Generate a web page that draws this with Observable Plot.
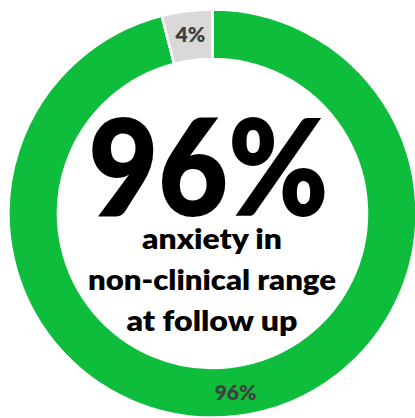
<!DOCTYPE html>
<html>
<head>
<meta charset="utf-8">
<script src="https://cdn.jsdelivr.net/npm/d3@7"></script>
<script src="https://cdn.jsdelivr.net/npm/@observablehq/plot@0.6"></script>
<style>
  html, body { margin: 0; padding: 0; background: #fff; }
  svg { display: block; }
</style>
</head>
<body>
<div id="chart"></div>
<script>
// ---- data ----
const categories = ["non-clinical", "clinical"];
const values = [96, 4];
const sliceLabels = ["96%", "4%"];
const colors = ["#0FBD3C", "#D9D9D9"];
const headline = "96%";
const captionLines = ["anxiety in", "non-clinical range", "at follow up"];

// ---- layout ----
const W = 415, H = 418;
const cx = 212.5, cy = 213.5;
const rOuter = 204, rInner = 154.5;

const pie = d3.pie().sort(null).value(d => d.value);
const arcs = pie(categories.map((c, i) => ({category: c, value: values[i], label: sliceLabels[i], color: colors[i]})));
const arcGen = d3.arc();
const labelArc = d3.arc().innerRadius((rOuter + rInner) / 2 + 1).outerRadius((rOuter + rInner) / 2 + 1);
const labelData = arcs.map(a => {
  const [lx, ly] = labelArc.centroid(a);
  return {x: lx, y: ly, label: a.data.label};
});

const font = "Lato, 'Open Sans', sans-serif";

const chart = Plot.plot({
  width: W,
  height: H,
  margin: 0,
  x: {domain: [-cx, W - cx], range: [0, W], axis: null},
  y: {domain: [-cy, H - cy], range: [0, H], axis: null},
  style: {background: "#fff", fontFamily: font},
  marks: [
    (index, scales) => {
      const g = d3.create("svg:g");
      const x0 = scales.x(0), y0 = scales.y(0);
      const k = scales.x(1) - scales.x(0);
      g.selectAll("path")
        .data(arcs)
        .join("path")
        .attr("transform", `translate(${x0},${y0})`)
        .attr("d", a => arcGen({...a, innerRadius: rInner * k, outerRadius: rOuter * k}))
        .attr("fill", a => a.data.color)
        .attr("stroke", "#fff")
        .attr("stroke-width", 2.5);
      return g.node();
    },
    Plot.text(labelData, {
      x: "x", y: "y", text: "label",
      fontSize: 21, fontWeight: 800, fill: "#404040", fontFamily: font
    }),
    Plot.text([headline], {
      x: () => -4.5, y: () => 1.5, text: d => d,
      lineAnchor: "bottom", fontSize: 134, fontWeight: 800, fill: "#000", fontFamily: font,
      className: "headline"
    }),
    Plot.text(captionLines, {
      x: () => -1, y: (d, i) => 35 + i * 41, text: d => d,
      lineAnchor: "bottom", fontSize: 28.5, fontWeight: 800, fill: "#000", fontFamily: font,
      className: "caption"
    })
  ]
});

document.getElementById("chart").append(chart);

// stretch text widths to the reference proportions
const fit = (sel, widths) => {
  chart.querySelectorAll(sel + " text").forEach((t, i) => {
    const w = widths[i];
    if (w) {
      t.setAttribute("textLength", w);
      t.setAttribute("lengthAdjust", "spacingAndGlyphs");
    }
  });
};
fit(".headline", [240]);
fit(".caption", [140, 248, 171]);
</script>
</body>
</html>
